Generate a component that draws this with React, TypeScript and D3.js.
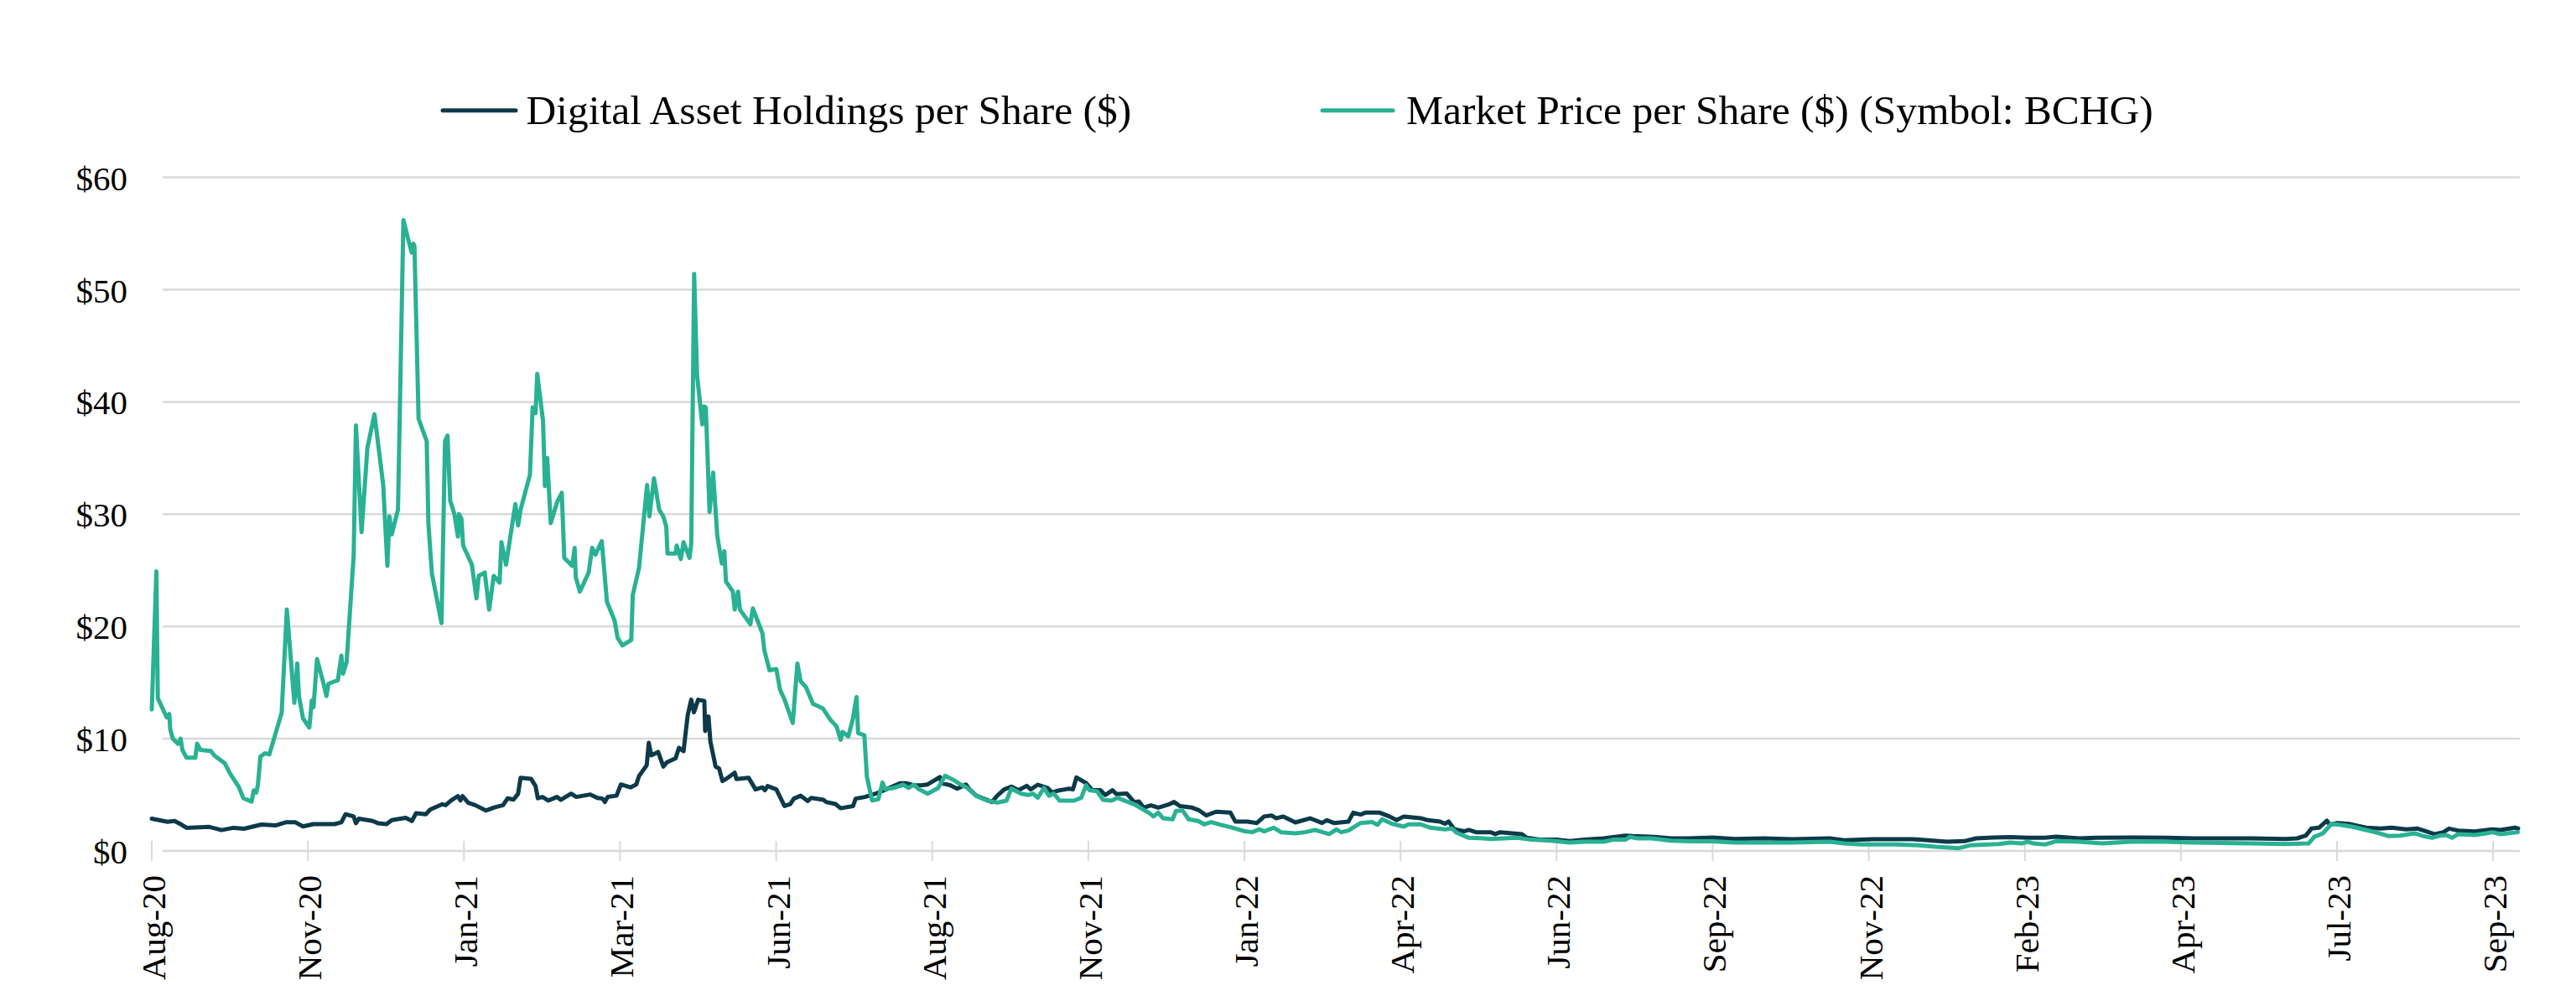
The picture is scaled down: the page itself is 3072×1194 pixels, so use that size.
import React from "react";
import * as d3 from "d3";

// Day offsets from 18-Aug-2020, value in $
const marketPrice: [number, number][] = [
  [0,12.6],[2.2,24.9],[2.9,13.6],[5.9,12.4],[7.2,11.9],[8.4,12.2],[8.9,10.8],[10.1,10.0],[12.6,9.55],[13.9,10.0],[14.7,9.0],[16.7,8.3],[20.9,8.3],[21.8,9.55],[23.4,9.0],[28.4,8.9],[30.1,8.5],[35.1,7.8],[37.6,6.9],[41.8,5.7],[44,4.7],[48,4.4],[49,5.4],[50.2,5.2],[51,5.9],[52.2,8.4],[54.3,8.7],[56.5,8.6],[62.4,12.3],[64.9,21.5],[68.5,13.2],[69.9,16.7],[70.7,13.8],[72.7,11.8],[75.7,11.0],[76.9,13.4],[77.7,12.8],[79.4,17.1],[82.4,15.0],[83.9,13.8],[84.9,14.9],[89.4,15.2],[91.1,17.4],[91.9,15.8],[93.6,16.8],[97,26.3],[98.1,37.9],[100.8,28.4],[103.6,35.9],[107,38.9],[111.2,32.6],[113.2,25.4],[114.2,29.8],[115.3,28.2],[118.3,30.4],[120.9,56.2],[123.2,54.5],[124.9,53.3],[125.7,54.1],[126.2,53.9],[128.2,38.5],[132.1,36.5],[132.9,29.2],[134.6,24.7],[139.2,20.3],[140.9,36.5],[142.1,37.0],[143.4,31.2],[145.4,30.0],[147.1,28.0],[147.6,30.0],[148.8,29.6],[149.6,27.2],[153.8,25.5],[156,22.5],[157.1,24.5],[160,24.8],[162.1,21.5],[164.3,24.5],[167.1,23.9],[168,27.5],[170.2,25.5],[174.7,30.9],[176,29.0],[177.2,30.4],[181.7,33.5],[183,39.5],[184.4,39.0],[185.2,42.5],[188,38.3],[188.9,32.5],[190,35.0],[191.7,29.2],[194.8,31.1],[197,31.9],[198.2,26.1],[202,25.4],[203.2,27.0],[203.7,24.4],[205.7,23.1],[209.9,24.8],[211.6,27.0],[213.2,26.4],[216.2,27.6],[218.7,22.2],[222.4,20.5],[223.8,19.0],[226.1,18.3],[230.4,18.8],[231.1,22.8],[234.1,25.2],[238,32.6],[239.1,29.8],[241.3,33.2],[243.8,30.4],[245.8,29.8],[247.2,28.9],[247.8,26.5],[251.7,26.5],[252.2,27.2],[254.2,26.0],[255.5,27.5],[258.4,26.1],[259.2,27.4],[260.6,51.4],[262,42.4],[264.5,38.0],[265.4,39.6],[266.2,39.5],[268,30.2],[269.7,33.7],[271.7,28.1],[273.9,25.6],[275.1,26.7],[275.9,24.0],[279.2,23.1],[280.1,21.5],[281.7,23.1],[282.6,21.5],[287.6,20.2],[288.8,21.6],[293.4,19.4],[294.3,17.9],[296.8,16.1],[300.1,16.2],[301.8,14.4],[304,13.5],[308,11.4],[310.2,16.7],[311.8,15.1],[314.3,14.6],[317.7,13.1],[322.4,12.7],[326,11.7],[329,11.1],[331,9.9],[331.9,10.6],[334.7,10.2],[336.9,11.8],[338.6,13.7],[339.4,10.5],[342.4,10.3],[343.6,6.6],[346.1,4.5],[349.1,4.6],[351.1,6.1],[352.4,5.5],[356.1,5.6],[361.1,5.9],[363.6,5.6],[366.1,5.9],[368.6,5.5],[372.8,5.1],[377.8,5.6],[381.2,6.7],[385.4,6.3],[387.9,6.0],[392,5.6],[396.2,4.9],[401.2,4.5],[406.2,4.3],[410.7,4.48],[413,5.55],[417.6,5.11],[421.1,4.98],[423.4,5.11],[425.7,4.73],[428.7,5.61],[431.1,4.91],[433.4,5.11],[436.2,4.48],[443.1,4.48],[446.6,4.73],[448.9,5.85],[450.5,5.41],[454.2,5.31],[457,4.56],[461.1,4.48],[463.9,4.73],[472,4.16],[479,3.41],[481.3,3.07],[483.6,3.41],[485.9,2.91],[490.5,2.82],[492.1,3.56],[495.2,3.61],[498.2,2.82],[502.8,2.67],[505.6,2.37],[509,2.57],[513.7,2.32],[518.3,2.12],[525.2,1.75],[528.7,1.67],[532.2,1.92],[534.5,1.75],[539.1,2.07],[542.6,1.67],[549.5,1.57],[554.2,1.67],[558.8,1.87],[565.7,1.5],[569.2,1.92],[571.5,1.67],[575,1.82],[580.8,2.49],[586.5,2.57],[588.9,2.32],[591.2,2.82],[595.8,2.42],[601.6,2.17],[603.9,2.37],[609.7,2.37],[614.3,2.07],[617.8,2.0],[621.3,1.92],[624.7,2.0],[627,1.62],[632.8,1.17],[639.8,1.12],[643.2,1.07],[656,1.17],[662.9,1.0],[672.2,0.92],[681.4,0.75],[688.4,0.82],[697.6,0.82],[702.2,1.0],[708,1.0],[710.3,1.25],[713.8,1.12],[720.7,1.12],[730,0.92],[739.3,0.85],[749.7,0.85],[760.8,0.75],[774.5,0.75],[788.3,0.75],[806.2,0.82],[813.1,0.67],[821.4,0.57],[837.9,0.57],[848.9,0.5],[857.2,0.37],[868.2,0.25],[873.7,0.5],[887.5,0.62],[893,0.75],[898.5,0.67],[901.3,0.82],[904.1,0.67],[909.6,0.57],[915.1,0.87],[926.1,0.82],[937.1,0.67],[950.9,0.82],[967.4,0.82],[981.2,0.75],[1008.8,0.67],[1025.3,0.62],[1036.3,0.67],[1039,1.24],[1043.2,1.57],[1047.3,2.41],[1050.1,2.36],[1057,2.17],[1063.9,1.87],[1069.4,1.62],[1074.9,1.32],[1080.4,1.37],[1087.3,1.57],[1091.4,1.32],[1095.6,1.17],[1099.7,1.37],[1102.4,1.42],[1105.2,1.17],[1108,1.49],[1116.2,1.42],[1121.7,1.57],[1124.5,1.67],[1128.6,1.49],[1136.9,1.67]
];

const holdings: [number, number][] = [
  [0,2.87],[7.6,2.59],[10.9,2.67],[14.2,2.35],[16.7,2.06],[27.6,2.14],[33.5,1.86],[39.3,2.06],[44.3,1.98],[52.7,2.35],[59.4,2.27],[64.4,2.55],[69,2.55],[72.7,2.18],[77.7,2.39],[87.8,2.39],[91.1,2.55],[93.1,3.27],[97,3.07],[98.1,2.47],[99.5,2.87],[106.1,2.67],[108.7,2.47],[112.8,2.39],[115.3,2.75],[122,2.95],[125,2.67],[127,3.36],[131.7,3.27],[133.7,3.68],[139.6,4.16],[141.2,4.08],[143.8,4.49],[147.1,4.89],[148.3,4.49],[149.3,4.89],[152.1,4.28],[155.4,4.08],[160.5,3.6],[164.6,3.88],[168.8,4.08],[171,4.69],[173.8,4.57],[176,5.09],[177.2,6.51],[182.2,6.43],[184.4,5.78],[185.5,4.69],[187.7,4.81],[190.5,4.49],[194.7,4.81],[196.5,4.55],[201.5,5.1],[204,4.81],[210.7,5.03],[214.1,4.73],[216.6,4.66],[217.7,4.36],[219.1,4.81],[223.3,4.92],[225.4,5.92],[230,5.66],[232.8,5.92],[234.1,6.67],[237.8,7.63],[238.8,9.64],[240,8.52],[243.3,8.82],[245.8,7.52],[247.5,7.89],[251.7,8.26],[253.3,9.19],[255.5,8.89],[257.5,12.09],[259.2,13.47],[260.5,12.35],[262.5,13.47],[265.5,13.36],[265.9,10.68],[267.5,11.98],[268.4,9.75],[270.9,7.52],[272.6,7.34],[274.2,6.22],[275.9,6.41],[280.1,6.97],[280.9,6.41],[286.8,6.52],[290.1,5.48],[293.4,5.66],[294.6,5.4],[295.9,5.78],[300.1,5.48],[304,4.0],[306.8,4.18],[308.5,4.66],[311.8,4.92],[315.2,4.44],[316.8,4.73],[322.7,4.55],[324,4.36],[328.5,4.18],[331,3.8],[336.9,3.99],[338.2,4.66],[342.7,4.81],[347.8,5.1],[352.8,5.48],[359.5,6.03],[362.8,6.03],[365.8,5.85],[369.5,5.85],[372.8,5.92],[378.7,6.59],[379.5,6.03],[383.7,5.85],[387,5.55],[391.2,5.92],[392.9,5.48],[396.2,4.92],[403.7,4.36],[406.2,4.92],[409.6,5.48],[413,5.73],[416.5,5.41],[420.4,5.8],[422.3,5.48],[425.7,5.9],[430.4,5.61],[432.7,5.18],[435,5.36],[440.8,5.55],[442.6,5.48],[444.3,6.55],[448.9,6.05],[451.9,5.41],[455.8,5.41],[458.1,4.98],[461.6,5.41],[463.5,5.06],[468.5,5.11],[472,4.36],[474.3,4.41],[476.6,3.86],[480.1,4.06],[483.6,3.86],[488.2,4.11],[491.2,4.36],[494,3.99],[499.8,3.86],[503.3,3.61],[506.7,3.16],[511.4,3.49],[518.3,3.41],[520.6,2.62],[526.4,2.62],[531,2.49],[534.5,3.07],[538,3.16],[540.3,2.91],[543.7,3.07],[549.5,2.54],[556.5,2.91],[562.3,2.49],[564.6,2.74],[568,2.49],[575,2.62],[577.3,3.41],[580.8,3.24],[583.1,3.41],[590,3.41],[594.7,3.07],[598.1,2.74],[601.6,3.07],[609.7,2.91],[613.2,2.74],[619,2.62],[621.3,2.42],[623.1,2.62],[625.9,1.92],[630.5,1.75],[632.8,1.87],[636.3,1.67],[643.2,1.67],[645.5,1.5],[647.9,1.67],[658.3,1.5],[660.6,1.17],[667.5,1.0],[675.6,1.0],[681.4,0.87],[688.4,1.0],[697.6,1.12],[708,1.37],[711.5,1.32],[721.9,1.25],[730,1.12],[738.7,1.12],[749.7,1.19],[760.8,1.07],[774.5,1.12],[788.3,1.05],[806.2,1.12],[813.1,0.95],[826.9,1.05],[846.2,1.05],[862.7,0.82],[871,0.87],[876.5,1.12],[884.8,1.19],[893,1.24],[901.3,1.17],[909.6,1.17],[915.1,1.27],[926.1,1.12],[934.4,1.17],[953.6,1.19],[967.4,1.17],[981.2,1.12],[1008.8,1.12],[1025.3,1.07],[1030.8,1.12],[1035,1.37],[1037.7,1.99],[1041.3,2.07],[1045.1,2.69],[1046.5,2.32],[1050.1,2.49],[1055.6,2.41],[1063.9,2.07],[1070.8,1.99],[1076.3,2.07],[1083.2,1.92],[1088.7,1.99],[1092.8,1.74],[1097,1.49],[1101.1,1.67],[1103.8,1.99],[1108,1.82],[1116.2,1.74],[1124.5,1.92],[1128.6,1.87],[1135.5,2.07],[1137,2.0]
];

const xTickLabels = ["Aug-20","Nov-20","Jan-21","Mar-21","Jun-21","Aug-21","Nov-21","Jan-22","Apr-22","Jun-22","Sep-22","Nov-22","Feb-23","Apr-23","Jul-23","Sep-23"];
const tickStepDays = 75;
const yTicks = [0, 10, 20, 30, 40, 50, 60];
const seriesNames = ["Digital Asset Holdings per Share ($)", "Market Price per Share ($) (Symbol: BCHG)"];

const START = new Date(2020, 7, 18);
const END_DAY = 1137;
const DAY_MS = 86400000;
const toDate = (d: number) => new Date(START.getTime() + d * DAY_MS);

const W = 3072, H = 1194;
const DARK = "#0c3a4a";
const TEAL = "#29b193";
const GRID = "#d9d9d9";
const FONT = "'Liberation Serif', 'Times New Roman', serif";

export default function App() {
  const x = d3.scaleTime().domain([START, toDate(END_DAY)]).range([181, 3003]);
  const y = d3.scaleLinear().domain([0, 60]).range([1015, 211.6]);
  const line = d3.line<[number, number]>()
    .x((d) => x(toDate(d[0])))
    .y((d) => y(d[1]))
    .curve(d3.curveLinear);
  const gridX0 = 194, gridX1 = 3005;

  return (
    <svg width={W} height={H} style={{ position: "absolute", left: 0, top: 0, display: "block", background: "#fff" }}>
      <rect width={W} height={H} fill="#fff" />
      {yTicks.map((t) => (
        <g key={t}>
          <line x1={gridX0} x2={gridX1} y1={y(t)} y2={y(t)} stroke={GRID} strokeWidth={2.5} />
          <text x={152} y={y(t) + 15} textAnchor="end" fontFamily={FONT} fontSize={41} fill="#000">{"$" + t}</text>
        </g>
      ))}
      {xTickLabels.map((lab, i) => {
        const xx = x(toDate(i * tickStepDays));
        return (
          <g key={lab}>
            <line x1={xx} x2={xx} y1={y(0) - 12} y2={y(0) + 12} stroke={GRID} strokeWidth={2} />
            <text transform={`translate(${xx + 16},1044) rotate(-90)`} textAnchor="end" fontFamily={FONT} fontSize={41} fill="#000">{lab}</text>
          </g>
        );
      })}
      <path d={line(holdings) || ""} fill="none" stroke={DARK} strokeWidth={5} strokeLinejoin="round" strokeLinecap="round" />
      <path d={line(marketPrice) || ""} fill="none" stroke={TEAL} strokeWidth={5} strokeLinejoin="round" strokeLinecap="round" />
      <g>
        <line x1={528} x2={615} y1={131.7} y2={131.7} stroke={DARK} strokeWidth={5} strokeLinecap="round" />
        <text x={627.5} y={148} fontFamily={FONT} fontSize={49.5} fill="#000">{seriesNames[0]}</text>
        <line x1={1577} x2={1661} y1={131.7} y2={131.7} stroke={TEAL} strokeWidth={5} strokeLinecap="round" />
        <text x={1677} y={148} fontFamily={FONT} fontSize={49.5} fill="#000">{seriesNames[1]}</text>
      </g>
    </svg>
  );
}
